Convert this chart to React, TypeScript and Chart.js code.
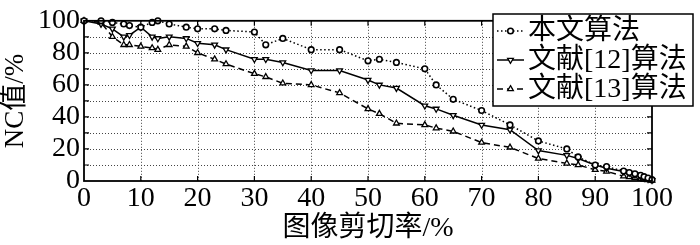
import React, { useEffect, useRef } from 'react';
import { Chart, registerables } from 'chart.js';

Chart.register(...registerables);

// Shear rate (%) sample positions shared by all series
const shearRates = [0, 3, 5, 7, 8, 10, 12, 13, 15, 18, 20, 23, 25, 30, 32, 35, 40, 45, 50, 52, 55, 60, 62, 65, 70, 75, 80, 85, 87, 90, 92, 95, 96, 97, 98, 98.6, 99.3, 100];
const oursNC = [100, 100, 99, 98, 97, 96, 99, 100, 98, 96, 95, 95, 94, 93, 85, 89, 82, 82, 75, 76, 74, 70, 60, 51, 44, 35, 25, 20, 15, 10, 9, 6.2, 5.3, 4.5, 3.6, 2.7, 1.8, 0.8];
const ref12NC = [100, 98, 95, 90, 91, 96, 90, 89, 90, 89, 86, 85, 82, 76, 76, 74, 69, 69, 63, 60, 58, 47, 45, 41, 35, 32, 19, 16, 14, 10, 8, 6, 5, 4, 3, 2, 1.2, 0.5];
const ref13NC = [100, 99, 90, 85, 85, 84, 83, 82, 85, 84, 80, 76, 73, 67, 65, 61, 60, 55, 45, 42, 36, 35, 33, 31, 24, 21, 14, 11, 10, 7, 6, 3, 2.5, 2, 1.5, 1, 0.6, 0.3];
const seriesNames = ['本文算法', '文献[12]算法', '文献[13]算法'];
const xTitle = '图像剪切率/%';
const yTitle = 'NC值/%';

const SERIF = "'Liberation Serif', 'Times New Roman', serif";
const MIXED = "'Liberation Serif', 'Noto Sans CJK SC', serif";

function pts(ys: number[]) {
  return shearRates.map((x, i) => ({ x, y: ys[i] }));
}

function drawMarker(ctx: CanvasRenderingContext2D, style: string, rotation: number, r: number, x: number, y: number) {
  ctx.beginPath();
  if (style === 'circle') {
    ctx.arc(x, y, r, 0, Math.PI * 2);
  } else {
    let rad = (rotation * Math.PI) / 180;
    const step = (Math.PI * 2) / 3;
    ctx.moveTo(x + Math.sin(rad) * r, y - Math.cos(rad) * r);
    rad += step;
    ctx.lineTo(x + Math.sin(rad) * r, y - Math.cos(rad) * r);
    rad += step;
    ctx.lineTo(x + Math.sin(rad) * r, y - Math.cos(rad) * r);
    ctx.closePath();
  }
  ctx.fillStyle = '#fff';
  ctx.fill();
  ctx.setLineDash([]);
  ctx.stroke();
}

export default function App() {
  const ref = useRef<HTMLCanvasElement>(null);
  useEffect(() => {
    document.body.style.margin = '0';
    const canvas = ref.current!;

    const framePlugin = {
      id: 'framePlugin',
      beforeDatasetsDraw(chart: any) {
        const { ctx, chartArea: a, scales } = chart;
        ctx.save();
        ctx.strokeStyle = '#444';
        ctx.lineWidth = 1;
        ctx.setLineDash([1, 2]);
        for (let v = 10; v < 100; v += 10) {
          const px = Math.round(scales.x.getPixelForValue(v)) + 0.5;
          ctx.beginPath();
          ctx.moveTo(px, a.top);
          ctx.lineTo(px, a.bottom);
          ctx.stroke();
          const py = Math.round(scales.y.getPixelForValue(v)) + 0.5;
          ctx.beginPath();
          ctx.moveTo(a.left, py);
          ctx.lineTo(a.right, py);
          ctx.stroke();
        }
        ctx.restore();
      },
      afterDatasetsDraw(chart: any) {
        const { ctx, chartArea: a, scales } = chart;
        ctx.save();
        ctx.setLineDash([]);
        ctx.strokeStyle = '#000';
        ctx.lineWidth = 1.8;
        ctx.strokeRect(a.left, a.top, a.right - a.left, a.bottom - a.top);
        ctx.lineWidth = 1.2;
        const tl = 5;
        for (let v = 10; v < 100; v += 10) {
          const px = scales.x.getPixelForValue(v);
          ctx.beginPath();
          ctx.moveTo(px, a.bottom);
          ctx.lineTo(px, a.bottom - tl);
          ctx.moveTo(px, a.top);
          ctx.lineTo(px, a.top + tl);
          const py = scales.y.getPixelForValue(v);
          ctx.moveTo(a.left, py);
          ctx.lineTo(a.left + tl, py);
          ctx.moveTo(a.right, py);
          ctx.lineTo(a.right - tl, py);
          ctx.stroke();
        }

        // legend box
        const bx = 493, by = 14, bw = 200, bh = 92;
        ctx.fillStyle = '#fff';
        ctx.fillRect(bx, by, bw, bh);
        ctx.lineWidth = 1.5;
        ctx.strokeStyle = '#000';
        ctx.strokeRect(bx, by, bw, bh);
        const rows = [31, 60, 89];
        chart.data.datasets.forEach((ds: any, i: number) => {
          const yy = rows[i];
          ctx.strokeStyle = '#000';
          ctx.lineWidth = ds.borderWidth;
          ctx.setLineDash(ds.borderDash || []);
          ctx.beginPath();
          ctx.moveTo(497, yy);
          ctx.lineTo(524, yy);
          ctx.stroke();
          ctx.lineWidth = ds.pointBorderWidth;
          drawMarker(ctx, ds.pointStyle, ds.pointRotation || 0, ds.pointRadius, 510.5, yy);
          ctx.fillStyle = '#000';
          ctx.font = `28px ${MIXED}`;
          ctx.textBaseline = 'middle';
          ctx.textAlign = 'left';
          ctx.fillText(ds.label, 528, yy + 1);
        });
        ctx.restore();
      },
    };

    const chart = new Chart(canvas, {
      type: 'line',
      data: {
        datasets: [
          {
            label: seriesNames[0],
            data: pts(oursNC),
            borderColor: '#000',
            borderWidth: 1.5,
            borderDash: [1.5, 2.5],
            pointStyle: 'circle',
            pointRadius: 2.8,
            pointBorderWidth: 1.6,
            pointBackgroundColor: '#fff',
            pointBorderColor: '#000',
            clip: false,
          } as any,
          {
            label: seriesNames[1],
            data: pts(ref12NC),
            borderColor: '#000',
            borderWidth: 1.5,
            pointStyle: 'triangle',
            pointRotation: 180,
            pointRadius: 3.3,
            pointBorderWidth: 1.3,
            pointBackgroundColor: '#fff',
            pointBorderColor: '#000',
            clip: false,
          } as any,
          {
            label: seriesNames[2],
            data: pts(ref13NC),
            borderColor: '#000',
            borderWidth: 1.5,
            borderDash: [6, 4],
            pointStyle: 'triangle',
            pointRadius: 3.3,
            pointBorderWidth: 1.3,
            pointBackgroundColor: '#fff',
            pointBorderColor: '#000',
            clip: false,
          } as any,
        ],
      },
      options: {
        responsive: false,
        animation: false,
        layout: { padding: { top: 6, right: 48, left: 0, bottom: 0 } },
        plugins: { legend: { display: false }, tooltip: { enabled: false } },
        scales: {
          x: {
            type: 'linear',
            min: 0,
            max: 100,
            grid: { display: false, drawTicks: false },
            border: { display: false },
            ticks: {
              stepSize: 10,
              color: '#000',
              padding: 1,
              maxRotation: 0,
              autoSkip: false,
              font: { family: SERIF, size: 28 },
            },
            title: {
              display: true,
              text: xTitle,
              color: '#000',
              padding: 0,
              font: { family: MIXED, size: 28 },
            },
            afterFit: (s: any) => {
              s.height = 64;
            },
          },
          y: {
            type: 'linear',
            min: 0,
            max: 100,
            grid: { display: false, drawTicks: false },
            border: { display: false },
            ticks: {
              stepSize: 10,
              color: '#000',
              padding: 4,
              autoSkip: false,
              font: { family: SERIF, size: 28 },
              callback: (v: any) => (Number(v) % 20 === 0 ? String(v) : ''),
            },
            title: {
              display: true,
              text: yTitle,
              color: '#000',
              padding: 0,
              font: { family: MIXED, size: 27 },
            },
            afterFit: (s: any) => {
              s.width = 84;
            },
          },
        },
      },
      plugins: [framePlugin],
    });
    return () => chart.destroy();
  }, []);
  return (
    <div style={{ width: 700, height: 245 }}>
      <canvas ref={ref} width={700} height={245} />
    </div>
  );
}
